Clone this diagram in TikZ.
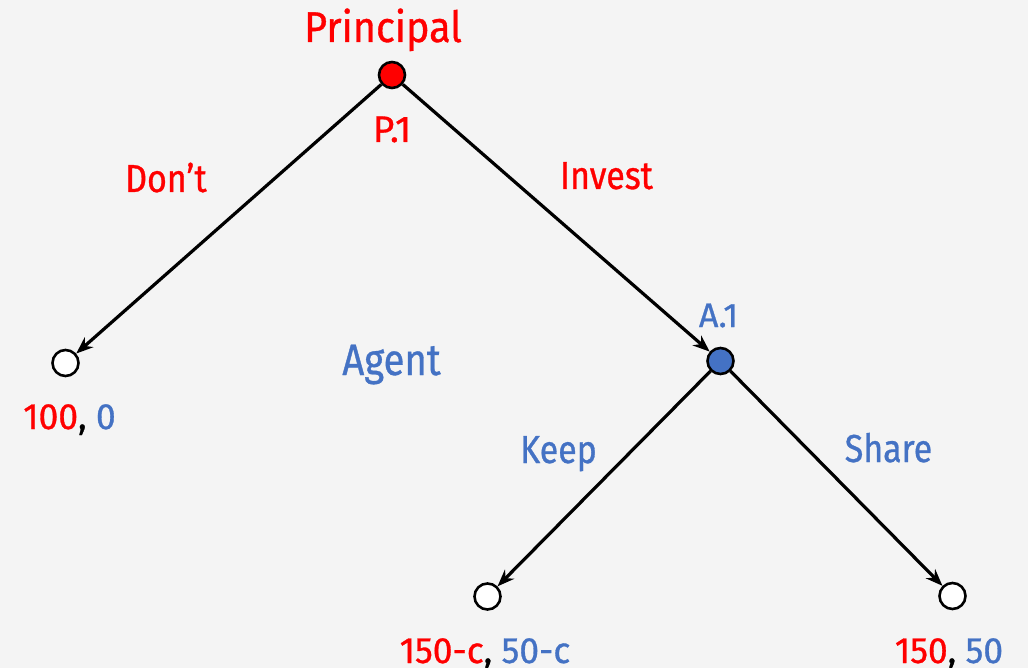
\documentclass[tikz,border=0pt]{standalone}
\usepackage{fontspec}
\setmainfont{Fira Sans}
\newfontfamily\fsA{Fira Sans}[FakeStretch=0.87,FakeBold=0.8]
\newfontfamily\fsP{Fira Sans}[FakeStretch=0.92,FakeBold=0.8]
\newfontfamily\fsB{Fira Sans}[FakeStretch=0.97,FakeBold=0.8]
\newfontfamily\fsC{Fira Sans}[FakeBold=0.8]
\usetikzlibrary{arrows.meta}
\definecolor{pred}{HTML}{FF0000}
\definecolor{ablue}{HTML}{4472C4}
\definecolor{bgc}{HTML}{F4F4F4}
\begin{document}
\begin{tikzpicture}[x=1pt,y=-1pt,
  dnode/.style={circle,draw=black,line width=2.6pt,minimum size=26pt,inner sep=0pt},
  leaf/.style={dnode,fill=white},
  edge/.style={line width=3.2pt,-{Stealth[length=17pt,width=13pt]}},
  lbl/.style={font=\fsA\fontsize{39}{46}\selectfont,inner sep=0pt,anchor=base},
  tag/.style={inner sep=0pt,anchor=base},
  pay/.style={font=\fsB\fontsize{36.5}{44}\selectfont,inner sep=0pt,anchor=base}]
\fill[bgc] (0,0) rectangle (1028,668);
\useasboundingbox (0,0) rectangle (1028,668);
\node[dnode,fill=pred] (p1) at (392,75) {};
\node[leaf] (l1) at (65.5,363) {};
\node[dnode,fill=ablue] (a1) at (720.5,361) {};
\node[leaf] (l2) at (487.5,596.5) {};
\node[leaf] (l3) at (952.5,596) {};
\draw[edge] (p1) -- (l1);
\draw[edge] (p1) -- (a1);
\draw[edge] (a1) -- (l2);
\draw[edge] (a1) -- (l3);
\node[tag,font=\fsP\fontsize{43}{50}\selectfont,text=pred] (tp) at (383,42) {Principal};
\node[tag,font=\fsC\fontsize{37}{44}\selectfont,text=pred] (tp1) at (392,142) {P.1};
\node[lbl,text=pred] (td) at (166,192) {Don’t};
\node[lbl,text=pred] (ti) at (606.5,189) {Invest};
\node[tag,font=\fsA\fontsize{44}{50}\selectfont,text=ablue] (ta) at (391.5,375) {Agent};
\node[tag,font=\fsC\fontsize{34}{40}\selectfont,text=ablue] (ta1) at (718.5,327) {A.1};
\node[lbl,text=ablue] (tk) at (558.5,463) {Keep};
\node[lbl,text=ablue] (ts) at (888.5,462) {Share};
\node[pay] (pay1) at (69.5,429) {\textcolor{pred}{100}, \textcolor{ablue}{0}};
\node[pay] (pay2) at (485,663) {\textcolor{pred}{150-c}, \textcolor{ablue}{50-c}};
\node[pay] (pay3) at (949,663) {\textcolor{pred}{150}, \textcolor{ablue}{50}};
\end{tikzpicture}
\end{document}
